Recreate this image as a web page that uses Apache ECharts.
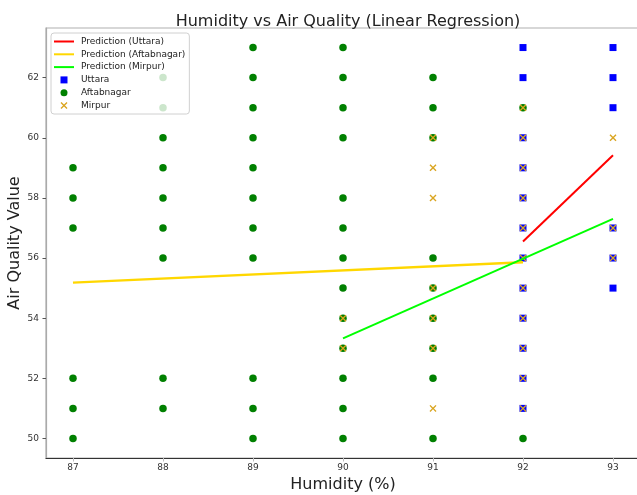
<!DOCTYPE html>
<html>
<head>
<meta charset="utf-8">
<script src="https://cdn.jsdelivr.net/npm/echarts@6/dist/echarts.min.js"></script>
<style>
html,body{margin:0;padding:0;background:#fff;}
#c{width:637px;height:495px;}
</style>
</head>
<body>
<div id="c"></div>
<script>
// ---- data ----
const xTicks = [87, 88, 89, 90, 91, 92, 93];
const yTicks = [50, 52, 54, 56, 58, 60, 62];

const uttaraHumidity = [92,92,92,92,92,92,92,92,92,92,92,92, 93,93,93,93,93,93];
const uttaraAQ       = [63,62,60,59,58,57,56,55,54,53,52,51, 63,62,61,57,56,55];

const aftabHumidity = [
  87,87,87,87,87,87,
  88,88,88,88,88,88,88,88,88,
  89,89,89,89,89,89,89,89,89,89,89,
  90,90,90,90,90,90,90,90,90,90,90,90,90,
  91,91,91,91,91,91,91,91,91,
  92,92
];
const aftabAQ = [
  59,58,57,52,51,50,
  62,61,60,59,58,57,56,52,51,
  63,62,61,60,59,58,57,56,52,51,50,
  63,62,61,60,58,57,56,55,54,53,52,51,50,
  62,61,60,56,55,54,53,52,50,
  61,50
];

const mirpurHumidity = [90,90, 91,91,91,91,91,91,91, 92,92,92,92,92,92,92,92,92,92,92, 93,93,93];
const mirpurAQ       = [54,53, 60,59,58,55,54,53,51, 61,60,59,58,57,56,55,54,53,52,51, 60,57,56];

const predUttaraX = [92, 93];
const predUttaraY = [56.55, 59.42];
const predAftabX  = [87, 92];
const predAftabY  = [55.18, 55.86];
const predMirpurX = [90, 93];
const predMirpurY = [53.33, 57.30];

// ---- build ----
const zip = (a, b) => a.map((v, i) => [v, b[i]]);
const xPath = 'path://M0,1.4L1.4,0L5,3.6L8.6,0L10,1.4L6.4,5L10,8.6L8.6,10L5,6.4L1.4,10L0,8.6L3.6,5Z';
const sqPath = 'path://M0,0L10,0L10,10L0,10Z';
const linePath = 'path://M0,0L20,0L20,2L0,2Z';
const font = 'DejaVu Sans';

const chart = echarts.init(document.getElementById('c'), null, {renderer: 'canvas'});
chart.setOption({
  animation: false,
  backgroundColor: '#fff',
  textStyle: {fontFamily: font},
  title: {
    text: 'Humidity vs Air Quality (Linear Regression)',
    left: 343, top: 9, textAlign: 'center',
    textStyle: {fontFamily: font, fontSize: 16, fontWeight: 'normal', color: '#222'}
  },
  grid: {
    left: 46, top: 28, width: 594, height: 430,
    outerBoundsMode: 'none', containLabel: false,
    show: true, borderColor: '#b0b0b0', borderWidth: 1.2, backgroundColor: 'transparent'
  },
  legend: {
    orient: 'vertical', left: 51, top: 33, z: 10,
    backgroundColor: 'rgba(255,255,255,0.8)', borderColor: '#d0d0d0', borderWidth: 1, borderRadius: 3,
    padding: [4, 4, 4, 3], itemGap: 3.8, itemWidth: 20, itemHeight: 7,
    textStyle: {fontFamily: font, fontSize: 9, color: '#222', padding: [0, 0, 0, 2]},
    data: [
      {name: 'Prediction (Uttara)', icon: linePath, itemStyle: {color: '#ff0000'}},
      {name: 'Prediction (Aftabnagar)', icon: linePath, itemStyle: {color: '#ffd700'}},
      {name: 'Prediction (Mirpur)', icon: linePath, itemStyle: {color: '#00ff00'}},
      {name: 'Uttara', icon: sqPath},
      {name: 'Aftabnagar', icon: 'circle'},
      {name: 'Mirpur', icon: xPath}
    ]
  },
  xAxis: {
    type: 'value', min: 86.7, max: 93.3,
    name: 'Humidity (%)', nameLocation: 'middle', nameGap: 17,
    nameTextStyle: {fontFamily: font, fontSize: 16, color: '#222'},
    axisLine: {show: true, onZero: false, lineStyle: {color: '#333', width: 1.2}},
    axisTick: {show: true, length: 3.5, customValues: xTicks, lineStyle: {color: '#bbb'}},
    axisLabel: {customValues: xTicks, margin: 5, fontFamily: font, fontSize: 9, color: '#333'},
    splitLine: {show: false}
  },
  yAxis: {
    type: 'value', min: 49.35, max: 63.65,
    name: 'Air Quality Value', nameLocation: 'middle', nameGap: 23, nameMoveOverlap: false,
    nameTextStyle: {fontFamily: font, fontSize: 16, color: '#222'},
    axisLine: {show: true, onZero: false, lineStyle: {color: '#aaa', width: 1.2}},
    axisTick: {show: true, length: 3.5, customValues: yTicks, lineStyle: {color: '#555'}},
    axisLabel: {customValues: yTicks, margin: 7, fontFamily: font, fontSize: 9, color: '#333'},
    splitLine: {show: false}
  },
  series: [
    {name: 'Prediction (Uttara)', type: 'line', data: zip(predUttaraX, predUttaraY), symbol: 'none',
     lineStyle: {color: '#ff0000', width: 2}, itemStyle: {color: '#ff0000'}, z: 3},
    {name: 'Prediction (Aftabnagar)', type: 'line', data: zip(predAftabX, predAftabY), symbol: 'none',
     lineStyle: {color: '#ffd700', width: 2.3}, itemStyle: {color: '#ffd700'}, z: 3},
    {name: 'Prediction (Mirpur)', type: 'line', data: zip(predMirpurX, predMirpurY), symbol: 'none',
     lineStyle: {color: '#00ff00', width: 2}, itemStyle: {color: '#00ff00'}, z: 3},
    {name: 'Uttara', type: 'scatter', data: zip(uttaraHumidity, uttaraAQ), symbol: 'rect', symbolSize: 7,
     itemStyle: {color: '#0000ff', opacity: 1}, z: 2},
    {name: 'Aftabnagar', type: 'scatter', data: zip(aftabHumidity, aftabAQ), symbol: 'circle', symbolSize: 7.5,
     itemStyle: {color: '#008000', opacity: 1}, z: 2},
    {name: 'Mirpur', type: 'scatter', data: zip(mirpurHumidity, mirpurAQ), symbol: xPath, symbolSize: 7,
     itemStyle: {color: '#daa520', opacity: 1}, z: 2}
  ]
});
</script>
</body>
</html>
